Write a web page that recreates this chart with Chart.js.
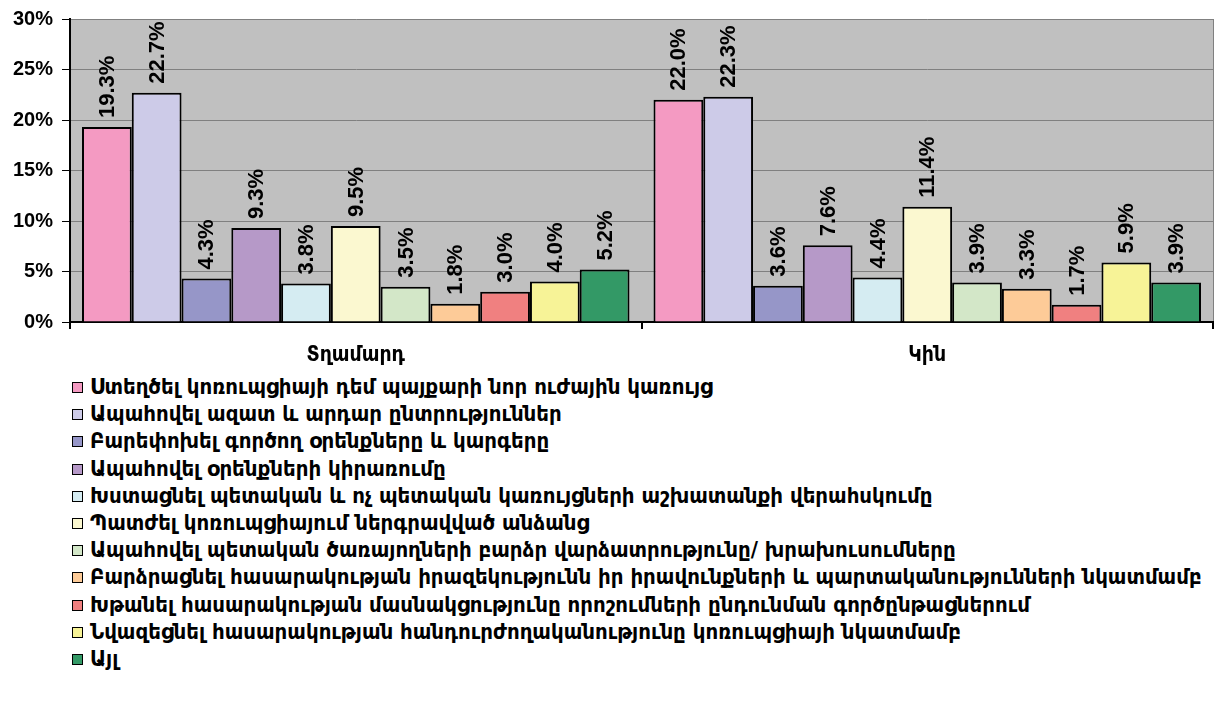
<!DOCTYPE html>
<html lang="hy">
<head>
    <meta charset="UTF-8">
    <title>Կոռուպցիայի դեմ պայքար</title>
    <script src="https://cdn.jsdelivr.net/npm/chart.js"></script>
    <style>
        body {
            margin: 0;
            background: #fff;
            font-family: 'DejaVu Sans Condensed', 'DejaVu Sans', sans-serif;
        }
        .chart-box {
            position: relative;
            width: 1216px;
            height: 370px;
        }
        #legend {
            list-style: none;
            margin: 3px 0 0 72px;
            padding: 0;
        }
        #legend li {
            height: 27.2px;
            line-height: 27.2px;
            font-size: 22px;
            font-weight: bold;
            color: #000;
            white-space: nowrap;
            font-family: 'DejaVu Sans Condensed', 'DejaVu Sans', sans-serif;
        }
        #legend .box {
            display: inline-block;
            width: 9px;
            height: 9px;
            border: 1px solid #000;
            margin-right: 7px;
            vertical-align: 1px;
        }
    </style>
</head>
<body>
    <div class="chart-box">
        <canvas id="chart"></canvas>
    </div>
    <ul id="legend"></ul>

    <script>
        // categories (x axis)
        const categories = ['Տղամարդ', 'Կին'];

        // series names, in legend order
        const seriesNames = [
            'Ստեղծել կոռուպցիայի դեմ պայքարի նոր ուժային կառույց',
            'Ապահովել ազատ և արդար ընտրություններ',
            'Բարեփոխել գործող օրենքները և կարգերը',
            'Ապահովել օրենքների կիրառումը',
            'Խստացնել պետական և ոչ պետական կառույցների աշխատանքի վերահսկումը',
            'Պատժել կոռուպցիայում ներգրավված անձանց',
            'Ապահովել պետական ծառայողների բարձր վարձատրությունը/ խրախուսումները',
            'Բարձրացնել հասարակության իրազեկությունն իր իրավունքների և պարտականությունների նկատմամբ',
            'Խթանել հասարակության մասնակցությունը որոշումների ընդունման գործընթացներում',
            'Նվազեցնել հասարակության հանդուրժողականությունը կոռուպցիայի նկատմամբ',
            'Այլ'
        ];

        // percentages per series: [Տղամարդ, Կին]
        const newBody      = [19.3, 22.0];
        const fairVote     = [22.7, 22.3];
        const reformLaws   = [4.3, 3.6];
        const enforceLaws  = [9.3, 7.6];
        const oversight    = [3.8, 4.4];
        const punish       = [9.5, 11.4];
        const highPay      = [3.5, 3.9];
        const awareness    = [1.8, 3.3];
        const participate  = [3.0, 1.7];
        const tolerance    = [4.0, 5.9];
        const other        = [5.2, 3.9];

        const seriesValues = [newBody, fairVote, reformLaws, enforceLaws, oversight,
                              punish, highPay, awareness, participate, tolerance, other];

        const seriesColors = ['#F49AC2', '#CDCBE8', '#9696C8', '#B699C8', '#D5ECF2',
                              '#FBF8D0', '#D3E7C8', '#FDCB98', '#F08080', '#F7F397', '#339966'];

        // y axis ticks
        const yTicks = [0, 5, 10, 15, 20, 25, 30];

        const LABEL_FONT = "bold 22px Arial, 'Liberation Sans', sans-serif";

        // grey plot background + right border
        const plotBackground = {
            id: 'plotBackground',
            beforeDraw(chart) {
                const { ctx, chartArea: a } = chart;
                ctx.save();
                ctx.fillStyle = '#C0C0C0';
                ctx.fillRect(a.left, a.top, a.right - a.left, a.bottom - a.top);
                ctx.strokeStyle = '#808080';
                ctx.lineWidth = 1;
                ctx.beginPath();
                ctx.moveTo(a.right + 0.5, a.top);
                ctx.lineTo(a.right + 0.5, a.bottom);
                ctx.stroke();
                ctx.restore();
            }
        };

        // vertical value labels above each bar
        const barValueLabels = {
            id: 'barValueLabels',
            afterDatasetsDraw(chart) {
                const ctx = chart.ctx;
                ctx.save();
                ctx.font = LABEL_FONT;
                ctx.fillStyle = '#000';
                ctx.textAlign = 'left';
                ctx.textBaseline = 'middle';
                chart.data.datasets.forEach((ds, i) => {
                    chart.getDatasetMeta(i).data.forEach((bar, j) => {
                        ctx.save();
                        ctx.translate(bar.x + 1, bar.y - 9);
                        ctx.rotate(-Math.PI / 2);
                        ctx.fillText(ds.data[j].toFixed(1) + '%', 0, 0);
                        ctx.restore();
                    });
                });
                ctx.restore();
            }
        };

        const datasets = seriesNames.map((name, i) => ({
            label: name,
            data: seriesValues[i],
            backgroundColor: seriesColors[i],
            borderColor: '#000',
            borderWidth: 2,
            borderSkipped: 'bottom',
            barPercentage: 1.0,
            categoryPercentage: 0.958
        }));

        new Chart(document.getElementById('chart'), {
            type: 'bar',
            data: { labels: categories, datasets: datasets },
            options: {
                responsive: true,
                maintainAspectRatio: false,
                animation: false,
                layout: { padding: { top: -3, right: 3, left: 0, bottom: 0 } },
                plugins: {
                    legend: { display: false },
                    tooltip: { enabled: false }
                },
                scales: {
                    x: {
                        grid: {
                            offset: true,
                            drawOnChartArea: false,
                            drawTicks: true,
                            tickLength: 7,
                            tickColor: '#000',
                            lineWidth: 2
                        },
                        border: { color: '#000', width: 2 },
                        ticks: {
                            color: '#000',
                            padding: 14,
                            font: { size: 21, weight: 'bold', family: "'DejaVu Sans Condensed', 'DejaVu Sans', sans-serif" }
                        },
                        afterFit(scale) { scale.height = 48; }
                    },
                    y: {
                        min: 0,
                        max: 30,
                        afterBuildTicks(scale) {
                            scale.ticks = yTicks.map(v => ({ value: v }));
                        },
                        grid: {
                            color: '#808080',
                            lineWidth: 1,
                            tickColor: '#000',
                            tickLength: 8
                        },
                        border: { color: '#000', width: 2 },
                        ticks: {
                            color: '#000',
                            padding: 9,
                            font: { size: 20, weight: 'bold', lineHeight: 1, family: "Arial, 'Liberation Sans', sans-serif" },
                            callback: v => v + '%'
                        },
                        afterFit(scale) { scale.width = 70; }
                    }
                }
            },
            plugins: [plotBackground, barValueLabels]
        });

        // HTML legend, one row per series
        const legend = document.getElementById('legend');
        seriesNames.forEach((name, i) => {
            const li = document.createElement('li');
            const box = document.createElement('span');
            box.className = 'box';
            box.style.background = seriesColors[i];
            li.appendChild(box);
            li.appendChild(document.createTextNode(name));
            legend.appendChild(li);
        });
    </script>
</body>
</html>
